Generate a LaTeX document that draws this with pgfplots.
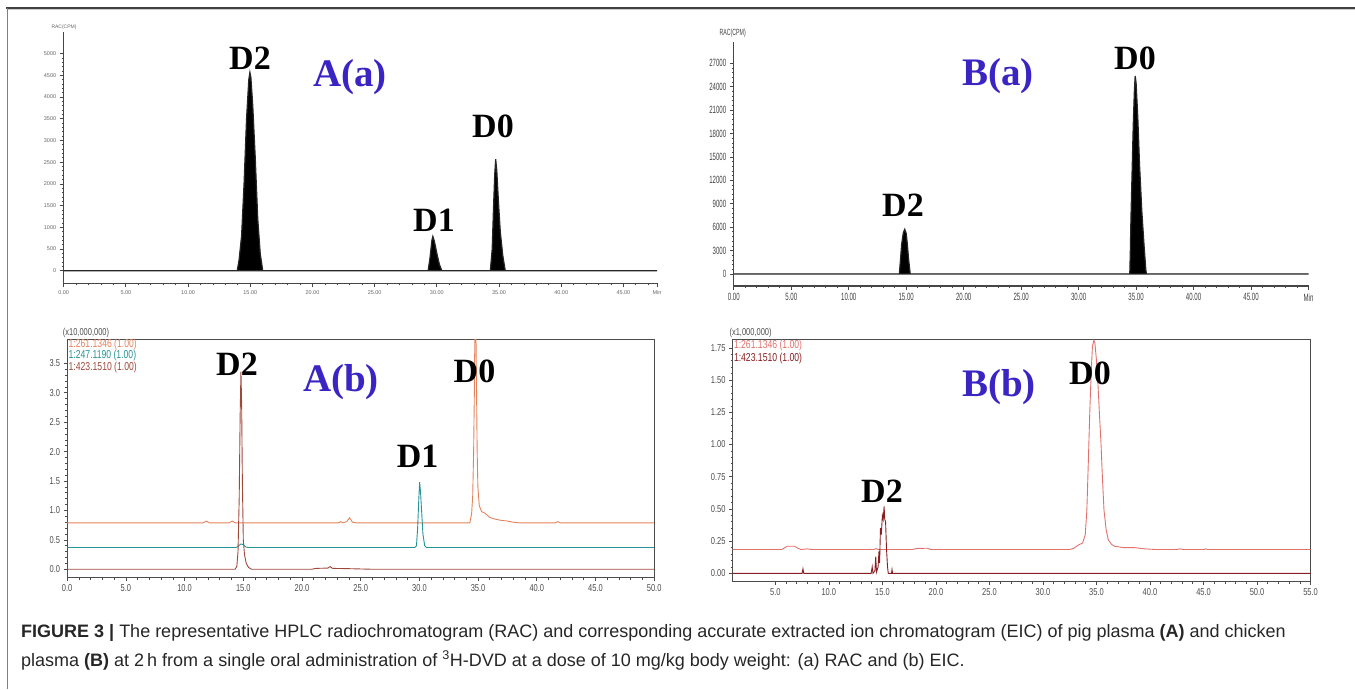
\documentclass[border=0pt]{standalone}
\usepackage{pgfplots}
\pgfplotsset{compat=1.18}
\usepackage{fontspec}
\setmainfont{Liberation Sans}
\newfontfamily\tnr{Liberation Serif}
\newfontfamily\eicfont[FakeStretch=0.75]{Liberation Sans}
\newfontfamily\racfont[FakeStretch=0.58]{Liberation Sans}

\definecolor{labblue}{RGB}{58,36,196}
\definecolor{eicorange}{RGB}{228,130,92}
\definecolor{eicteal}{RGB}{38,148,150}
\definecolor{eicbrown}{RGB}{158,72,58}
\definecolor{eicsalmon}{RGB}{226,112,108}
\definecolor{eicdark}{RGB}{136,30,34}
\definecolor{axgray}{RGB}{70,70,70}

\newcommand{\dlab}[1]{{\tnr\bfseries\fontsize{34}{34}\selectfont #1}}
\newcommand{\plab}[1]{{\tnr\bfseries\fontsize{39}{39}\selectfont\color{labblue}#1}}

\pgfplotsset{
  rac/.style={scale only axis, anchor=south west,
    axis lines*=left, axis line style={line width=1.3pt, axgray},
    scaled ticks=false,
    tick align=outside, major tick length=4pt, minor tick length=2.2pt,
    tick style={line width=0.8pt, axgray}},
  eic/.style={scale only axis, anchor=south west,
    axis line style={line width=0.9pt, black!70},
    scaled ticks=false,
    tick align=outside, tick pos=left, major tick length=3.5pt, minor tick length=2pt,
    tick style={line width=0.7pt, black!70},
    minor x tick num=4, minor y tick num=4,
    ticklabel style={font=\eicfont\fontsize{10}{10}\selectfont, text=black!70}},
}

\begin{document}
\begin{tikzpicture}[x=1pt,y=1pt]
\useasboundingbox (0,0) rectangle (1355,689);

% frame
\draw[line width=2pt, black!75] (6.3,681) -- (1355,681);
\draw[line width=0.8pt, black!20] (8,679.4) -- (1355,679.4);
\draw[line width=1.5pt, black!50] (7.3,0) -- (7.3,681);

% ---------- A(a): RAC pig plasma
\begin{axis}[rac, at={(63.7pt,405.7pt)}, width=593.3pt, height=251.3pt,
  xmin=0, xmax=47.7, ymin=-290, ymax=5500,
  xtick={0,5,10,15,20,25,30,35,40,45,47.7},
  xticklabels={0.00,5.00,10.00,15.00,20.00,25.00,30.00,35.00,40.00,45.00,Min},
  minor xtick={1,2,3,4,6,7,8,9,11,12,13,14,16,17,18,19,21,22,23,24,26,27,28,29,31,32,33,34,36,37,38,39,41,42,43,44,46,47},
  ytick={0,500,1000,1500,2000,2500,3000,3500,4000,4500,5000},
  yticklabels={0,500,1000,1500,2000,2500,3000,3500,4000,4500,5000},
  minor y tick num=4,
  ticklabel style={font=\fontsize{5.5}{5.5}\selectfont, text=black!60}]
\addplot[draw=black!85, fill=black, line width=1.2pt] coordinates {
 (0,0) (13.95,0) (14.1,250) (14.3,800) (14.5,2000) (14.7,3500) (14.88,4400)
 (14.97,4570) (15.05,4450) (15.2,3800) (15.4,2600) (15.6,1200) (15.8,400) (16.0,0)
 (29.3,0) (29.45,300) (29.6,700) (29.68,790) (29.8,680) (30.0,400) (30.2,150) (30.4,0)
 (34.3,0) (34.45,500) (34.55,1400) (34.65,2200) (34.73,2570) (34.82,2300)
 (34.95,1600) (35.1,900) (35.3,350) (35.5,0) (47.7,0)} \closedcycle;
\end{axis}

% ---------- B(a): RAC chicken plasma
\begin{axis}[rac, at={(733.8pt,403pt)}, width=574.7pt, height=244.3pt,
  xmin=0, xmax=50, ymin=-1540, ymax=29780,
  xtick={0,5,...,50},
  xticklabels={0.00,5.00,10.00,15.00,20.00,25.00,30.00,35.00,40.00,45.00,Min},
  minor x tick num=4,
  ytick={0,3000,...,27000},
  yticklabels={0,3000,6000,9000,12000,15000,18000,21000,24000,27000},
  minor y tick num=4,
  ticklabel style={font=\racfont\fontsize{10.5}{10.5}\selectfont, text=black!75}]
\addplot[draw=black!85, fill=black, line width=1.2pt] coordinates {
 (0,0) (14.4,0) (14.5,1800) (14.6,3800) (14.75,5300) (14.87,5730) (15.0,5200)
 (15.1,3800) (15.2,2000) (15.35,0)
 (34.45,0) (34.5,3000) (34.55,7000) (34.65,13000) (34.75,19000) (34.85,23500)
 (34.92,25400) (35.0,24500) (35.15,20000) (35.3,14000) (35.5,8000) (35.7,3500)
 (35.85,500) (35.9,0) (50,0)} \closedcycle;
\end{axis}

% ---------- A(b): EIC pig plasma
\begin{axis}[eic, at={(67.2pt,111.5pt)}, width=587pt, height=238.2pt,
  xmin=0, xmax=50, ymin=-0.14, ymax=3.91,
  xtick={0,5,...,50},
  xticklabels={0.0,5.0,10.0,15.0,20.0,25.0,30.0,35.0,40.0,45.0,50.0},
  ytick={0,0.5,1,1.5,2,2.5,3,3.5},
  yticklabels={0.0,0.5,1.0,1.5,2.0,2.5,3.0,3.5}]
\addplot[eicorange, line width=0.9pt] coordinates {
 (0,0.79) (11.6,0.79) (11.85,0.82) (12.1,0.79) (13.8,0.79) (14.05,0.82) (14.3,0.79)
 (23.1,0.79) (23.3,0.81) (23.5,0.79) (23.8,0.81) (24.05,0.875) (24.3,0.8) (24.6,0.79)
 (34.3,0.79) (34.45,0.95) (34.54,1.25) (34.62,2.0) (34.68,3.0) (34.73,4.1) (34.8,4.3)
 (34.86,3.2) (34.92,2.0) (34.98,1.4) (35.1,1.08) (35.3,0.98) (35.6,0.95) (36.0,0.88)
 (36.5,0.85) (37.0,0.83) (37.5,0.82) (38.0,0.80) (38.5,0.79) (41.6,0.79) (41.8,0.81)
 (42.0,0.79) (50,0.79)};
\addplot[eicteal, line width=0.9pt] coordinates {
 (0,0.37) (14.4,0.37) (14.6,0.40) (14.8,0.43) (15.0,0.42) (15.2,0.38) (15.4,0.37)
 (29.6,0.37) (29.75,0.40) (29.85,0.7) (29.95,1.2) (30.02,1.48) (30.1,1.3) (30.2,0.95)
 (30.3,0.6) (30.45,0.4) (30.6,0.37) (50,0.37)};
\addplot[eicbrown, line width=0.9pt] coordinates {
 (0,0) (14.3,0) (14.45,0.05) (14.55,0.3) (14.65,1.2) (14.73,2.6) (14.8,3.36)
 (14.86,2.8) (14.92,1.5) (15.0,0.5) (15.1,0.25) (15.25,0.1) (15.45,0.03) (15.7,0)
 (20.8,0) (21.2,0.015) (22.2,0.02) (22.4,0.045) (22.6,0.015) (24,0.01) (26,0) (50,0)};
\end{axis}

% ---------- B(b): EIC chicken plasma
\begin{axis}[eic, at={(732.5pt,107.3pt)}, width=578.1pt, height=242.4pt,
  xmin=1, xmax=55, ymin=-0.065, ymax=1.817,
  xtick={5,10,...,55},
  xticklabels={5.0,10.0,15.0,20.0,25.0,30.0,35.0,40.0,45.0,50.0,55.0},
  ytick={0,0.25,...,1.75},
  yticklabels={0.00,0.25,0.50,0.75,1.00,1.25,1.50,1.75}]
\addplot[eicsalmon, line width=0.9pt] coordinates {
 (1,0.185) (5.6,0.185) (5.9,0.2) (6.1,0.21) (6.8,0.21) (7.1,0.195) (7.4,0.185)
 (8,0.19) (8.4,0.185) (14.2,0.185) (14.4,0.192) (14.6,0.185) (17.8,0.185)
 (18.2,0.193) (19.2,0.195) (19.5,0.185) (32.5,0.185) (32.9,0.195) (33.3,0.22)
 (33.7,0.235) (33.95,0.3) (34.1,0.49) (34.25,0.9) (34.38,1.27) (34.5,1.55)
 (34.62,1.76) (34.75,1.81) (34.85,1.79) (35.0,1.65) (35.1,1.53) (35.25,1.28)
 (35.42,1.01) (35.55,0.75) (35.7,0.49) (35.9,0.34) (36.1,0.26) (36.4,0.225)
 (36.7,0.21) (37.5,0.2) (38.5,0.2) (39.5,0.19) (40.5,0.185) (42.5,0.185)
 (42.8,0.19) (43.1,0.185) (45,0.185) (45.2,0.19) (45.4,0.185) (55,0.185)};
\addplot[eicdark, line width=0.9pt] coordinates {
 (1,0) (7.5,0) (7.58,0.035) (7.66,0) (13.95,0) (14.05,0.05) (14.12,0) (14.3,0.02)
 (14.38,0.13) (14.45,0.01) (14.6,0.05) (14.68,0.17) (14.74,0.08) (14.82,0.35)
 (14.9,0.3) (15.0,0.45) (15.08,0.42) (15.16,0.52) (15.22,0.42) (15.3,0.40)
 (15.38,0.2) (15.48,0.05) (15.55,0) (15.85,0) (15.9,0.03) (15.95,0) (55,0)};
\end{axis}

% ---------- labels
\begin{scope}[every node/.style={inner sep=0pt}]
\node at (250,631) {\dlab{D2}};
\node at (350,612) {\plab{A(a)}};
\node at (493,563) {\dlab{D0}};
\node at (434,469) {\dlab{D1}};
\node[font=\fontsize{5}{5}\selectfont, text=black!60] at (64,661.3) {RAC(CPM)};

\node at (1135,631) {\dlab{D0}};
\node at (998,613) {\plab{B(a)}};
\node at (903,484) {\dlab{D2}};
\node[font=\racfont\fontsize{9}{9}\selectfont, text=black!75] at (732.7,655.7) {RAC(CPM)};

\node at (237,325) {\dlab{D2}};
\node at (341,306.5) {\plab{A(b)}};
\node at (474.5,317.5) {\dlab{D0}};
\node at (417.7,232.3) {\dlab{D1}};
\node[font=\eicfont\fontsize{10}{10}\selectfont, text=black!70] at (86,355.7) {(x10,000,000)};
\begin{scope}[every node/.append style={anchor=west, font=\eicfont\fontsize{11.5}{11.5}\selectfont}]
\node[text=eicorange] at (68.5,344.5) {1:261.1346 (1.00)};
\node[text=eicteal] at (68.5,333) {1:247.1190 (1.00)};
\node[text=eicbrown] at (68.5,321) {1:423.1510 (1.00)};
\end{scope}

\node at (999,302) {\plab{B(b)}};
\node at (1090,316) {\dlab{D0}};
\node at (882,198) {\dlab{D2}};
\node[font=\eicfont\fontsize{10}{10}\selectfont, text=black!70] at (750.6,356.3) {(x1,000,000)};
\begin{scope}[every node/.append style={anchor=west, font=\eicfont\fontsize{11.5}{11.5}\selectfont}]
\node[text=eicsalmon] at (733.8,343.3) {1:261.1346 (1.00)};
\node[text=eicdark] at (733.8,330.7) {1:423.1510 (1.00)};
\end{scope}

% caption
\begin{scope}[every node/.append style={anchor=base west, font=\fontsize{18}{18}\selectfont, text=black!85}]
\node at (21,52) {\textbf{FIGURE 3 |} The representative HPLC radiochromatogram (RAC) and corresponding accurate extracted ion chromatogram (EIC) of pig plasma \textbf{(A)} and chicken};
\node at (21,23) {plasma \textbf{(B)} at 2\,h from a single oral administration of \textsuperscript{3}H-DVD at a dose of 10 mg/kg body weight: (a) RAC and (b) EIC.};
\end{scope}
\end{scope}
\end{tikzpicture}
\end{document}
